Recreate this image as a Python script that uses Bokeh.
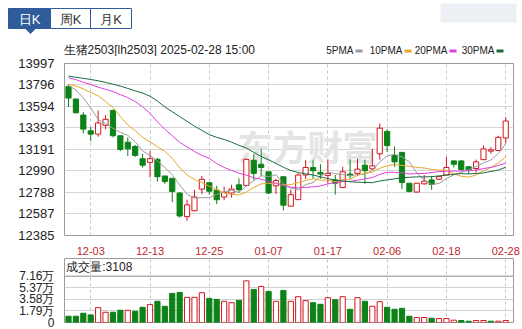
from bokeh.plotting import figure
from bokeh.layouts import column, row
from bokeh.models import Range1d, FixedTicker, Span
from bokeh.core.properties import value
from bokeh.embed import file_html
from bokeh.resources import INLINE

# ---------------- data ----------------
title_text = "生猪2503[lh2503] 2025-02-28 15:00"
open_ = [13781, 13664, 13514, 13366, 13335, 13418, 13557, 13320, 13259, 13219,
         13105, 13071, 13099, 12943, 12921, 12783, 12562, 12617, 12820, 12880,
         12810, 12746, 12783, 12860, 12854, 13090, 13053, 12982, 12851, 12936,
         12660, 12721, 12952, 13022, 12976, 12948, 12906, 12835, 12961, 12967,
         13044, 13010, 13151, 13360, 13136, 13164, 12875, 12792, 12869, 12906,
         12912, 12952, 13084, 13084, 13029, 13013, 13096, 13176, 13182, 13299]
high = [13800, 13667, 13541, 13403, 13557, 13514, 13566, 13320, 13305, 13234,
        13151, 13176, 13112, 12943, 12921, 12792, 12721, 12813, 12943, 12885,
        12850, 12844, 12860, 12921, 13105, 13151, 13197, 12982, 12915, 12936,
        12814, 12967, 13090, 13090, 13053, 13099, 12952, 13029, 13099, 13105,
        13096, 13198, 13434, 13382, 13219, 13164, 12875, 12875, 12952, 12943,
        12943, 13121, 13090, 13090, 13035, 13096, 13228, 13213, 13320, 13495]
low = [13590, 13530, 13342, 13268, 13311, 13382, 13305, 13176, 13130, 13121,
       13022, 12930, 12890, 12869, 12697, 12553, 12522, 12611, 12774, 12768,
       12680, 12715, 12740, 12783, 12850, 12906, 12943, 12774, 12774, 12620,
       12660, 12721, 12915, 12915, 12915, 12869, 12768, 12835, 12912, 12943,
       12869, 12998, 13096, 13167, 13029, 12820, 12789, 12792, 12863, 12814,
       12906, 12952, 13022, 12992, 12961, 12973, 13090, 13151, 13176, 13250]
close = [13673, 13535, 13382, 13335, 13440, 13474, 13320, 13191, 13197, 13136,
         13044, 13105, 12936, 12890, 12798, 12568, 12672, 12746, 12912, 12800,
         12720, 12789, 12820, 12814, 13099, 12967, 13022, 12783, 12900, 12669,
         12768, 12952, 13022, 12992, 12961, 12967, 12875, 12982, 12946, 13007,
         12992, 13038, 13391, 13228, 13075, 12881, 12798, 12875, 12894, 12863,
         12937, 13022, 13053, 13004, 12998, 13075, 13197, 13188, 13305, 13458]
volume = [9700, 9700, 14300, 11700, 23000, 15800, 15800, 18900, 18900, 17300,
          23500, 27600, 32700, 25000, 44900, 46400, 38800, 38800, 45900, 37200,
          35700, 32700, 30600, 34200, 64300, 51000, 55600, 48000, 32700, 49500,
          32700, 39800, 33700, 30600, 28100, 38300, 35200, 39800, 20400, 38300,
          32700, 25000, 32100, 23500, 20400, 21900, 9700, 7700, 7700, 6600,
          6100, 6100, 3600, 3100, 2000, 3100, 3100, 2000, 2000, 3108]

# moving-average values before a full window is available
ma5_lead = [13790, 13750, 13673, 13581]
ma10_lead = [13802, 13785, 13760, 13725, 13695, 13640, 13585, 13500, 13420]
ma20_lead = [13864, 13845, 13822, 13800, 13775, 13755, 13735, 13705, 13678, 13640,
             13590, 13530, 13450, 13380, 13320, 13259, 13215, 13172, 13135]
ma30_lead = [13879, 13868, 13858, 13847, 13835, 13820, 13803, 13785, 13763, 13740,
             13720, 13690, 13645, 13590, 13545, 13500, 13455, 13410, 13370, 13330,
             13305, 13285, 13260, 13230, 13205, 13165, 13125, 13095, 13060]

ma_names = ["5PMA", "10PMA", "20PMA", "30PMA"]
ma_windows = [5, 10, 20, 30]
ma_colors = ["#9c9c9c", "#e6a92c", "#e03fe0", "#1b6b3e"]

tick_idx = [3, 11, 19, 27, 35, 43, 51, 59]
tick_labels = ["12-03", "12-13", "12-25", "01-07", "01-17", "02-06", "02-18", "02-28"]
price_ticks = [12385, 12587, 12788, 12990, 13191, 13393, 13594, 13796, 13997]
vol_ticks = [0, 17900, 35800, 53700, 71600]
vol_tick_labels = ["0", "1.79万", "3.58万", "5.37万", "7.16万"]
tab_names = ["日K", "周K", "月K"]

RED = "#d4161e"
GREEN = "#0c8318"
BLUE = "#2f5d9b"
FONT = "Liberation Sans"

n = len(close)
idx = list(range(n))


def moving_avg(vals, w, lead):
    out = list(lead)
    for i in range(len(lead), len(vals)):
        out.append(sum(vals[i - w + 1:i + 1]) / w)
    return out


mas = [moving_avg(close, w, l) for w, l in
       zip(ma_windows, [ma5_lead, ma10_lead, ma20_lead, ma30_lead])]

# ---------------- header (page-pixel coordinates) ----------------
HH = 56
h = figure(width=522, height=HH, x_range=Range1d(0, 522), y_range=Range1d(HH, 0),
           toolbar_location=None, output_backend="svg", min_border=0)
h.axis.visible = False
h.grid.visible = False
h.outline_line_color = None
h.quad(left=[440], right=[516], top=[3], bottom=[22], fill_color="#e4e8ee",
       fill_alpha=0.7, line_color=None)
h.quad(left=[8, 50, 90], right=[50, 90, 131], top=[8, 8, 8], bottom=[28, 28, 28],
       fill_color=[BLUE, "white", "white"], line_color=BLUE)
h.patch([25, 35, 30], [28, 28, 33], color=BLUE)
h.text(x=[29, 70, 110.5], y=[18.5, 18.5, 18.5], text=tab_names,
       text_color=["white", "#333333", "#333333"], text_align="center",
       text_baseline="middle", text_font_size="13px", text_font=value(FONT))
h.text(x=[63], y=[49.2], text=[title_text], text_color="#222222",
       text_baseline="middle", text_font_size="12px", text_font=value(FONT))
sw_left = [355, 404, 449, 496]
h.text(x=[s - 2 for s in sw_left], y=[50] * 4, text=ma_names, text_color="#222222",
       text_align="right", text_baseline="middle", text_font_size="10px",
       text_font=value(FONT))
h.quad(left=sw_left, right=[s + 7 for s in sw_left], top=[49] * 4, bottom=[52] * 4,
       fill_color=ma_colors, line_color=None)

# ---------------- price panel ----------------
x_rng = Range1d(-0.54, 60.05)
p = figure(width=522, height=257 - HH, x_range=x_rng,
           y_range=Range1d(price_ticks[0], price_ticks[-1]),
           toolbar_location=None, output_backend="svg",
           min_border_left=64, min_border_right=9, min_border_top=63 - HH,
           min_border_bottom=20)
p.outline_line_color = "#9a9a9a"
p.yaxis.ticker = FixedTicker(ticks=price_ticks)
p.xaxis.ticker = FixedTicker(ticks=tick_idx)
p.xaxis.major_label_overrides = {t: l for t, l in zip(tick_idx, tick_labels)}
for ax in (p.xaxis[0], p.yaxis[0]):
    ax.axis_line_color = None
    ax.major_tick_line_color = None
    ax.minor_tick_line_color = None
    ax.major_label_text_font = FONT
p.yaxis.major_label_text_font_size = "13px"
p.yaxis.major_label_text_color = "#222222"
p.yaxis.major_label_standoff = 4
p.xaxis.major_label_text_font_size = "11px"
p.xaxis.major_label_text_color = "#c0282d"
p.xaxis.major_label_standoff = 5
p.ygrid.grid_line_color = "#d6d6d6"
p.xgrid.grid_line_color = "#c4c4c4"
p.xgrid.grid_line_dash = "3 3"

# watermark
p.text(x=[22.8], y=[13225], text=["东方财富"], text_color="#e4e4e4",
       text_baseline="middle", text_font_size="35px", text_font_style="bold",
       text_font=value("Noto Sans CJK SC"))

up = [c >= o for o, c in zip(open_, close)]
col = [RED if u else GREEN for u in up]
fill = ["white" if u else GREEN for u in up]
p.segment(x0=idx, y0=low, x1=idx, y1=high, color=col, line_width=1)
p.vbar(x=idx, width=0.7, top=[max(o, c) for o, c in zip(open_, close)],
       bottom=[min(o, c) for o, c in zip(open_, close)],
       fill_color=fill, line_color=col, line_width=1)
for m, c in zip(mas, ma_colors):
    p.line(idx, m, color=c, line_width=1)

# ---------------- volume panel ----------------
v = figure(width=522, height=72, x_range=x_rng, y_range=Range1d(0, 98800),
           toolbar_location=None, output_backend="svg",
           min_border_left=64, min_border_right=9, min_border_top=1,
           min_border_bottom=7)
v.outline_line_color = "#9a9a9a"
v.xaxis.visible = False
v.yaxis.ticker = FixedTicker(ticks=vol_ticks)
v.yaxis.major_label_overrides = {t: l for t, l in zip(vol_ticks, vol_tick_labels)}
v.yaxis.axis_line_color = None
v.yaxis.major_tick_line_color = None
v.yaxis.minor_tick_line_color = None
v.yaxis.major_label_text_font = FONT
v.yaxis.major_label_text_font_size = "12px"
v.yaxis.major_label_text_color = "#222222"
v.yaxis.major_label_standoff = 4
v.yaxis.major_label_text_baseline = "alphabetic"
v.ygrid.grid_line_color = "#d0d0d0"
v.xgrid.ticker = FixedTicker(ticks=tick_idx)
v.xgrid.grid_line_color = "#c4c4c4"
v.xgrid.grid_line_dash = "3 3"
v.add_layout(Span(location=vol_ticks[-1], dimension="width", line_color="#9a9a9a", line_width=1))

vup = [close[0] >= open_[0]] + [close[i] >= close[i - 1] for i in range(1, n)]
vcol = [RED if u else GREEN for u in vup]
vfill = ["white" if u else GREEN for u in vup]
v.vbar(x=idx, width=0.7, top=volume, bottom=0, fill_color=vfill, line_color=vcol, line_width=1)
v.text(x=[-0.3], y=[85500], text=["成交量:%d" % volume[-1]], text_color="#222222",
       text_baseline="middle", text_font_size="12px", text_font=value(FONT))

layout = column(row(h), p, v, spacing=0)
open("out.html", "w").write(file_html(layout, INLINE))
